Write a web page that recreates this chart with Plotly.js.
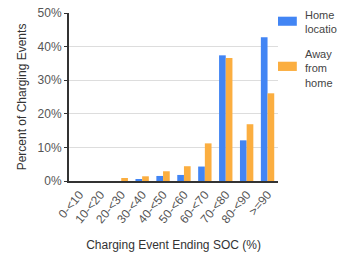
<!DOCTYPE html>
<html><head><meta charset="utf-8">
<script src="https://cdn.plot.ly/plotly-3.0.1.min.js"></script>
<style>html,body{margin:0;padding:0;background:#fff}#c{width:337px;height:257px}</style>
</head><body><div id="c"></div>
<script>
const categories = ["0-<10","10-<20","20-<30","30-<40","40-<50","50-<60","60-<70","70-<80","80-<90",">=90"];
const homeValues = [0, 0, 0, 0.6, 1.5, 1.8, 4.3, 37.4, 12.1, 42.8];
const awayValues = [0, 0, 0.9, 1.4, 2.9, 4.4, 11.2, 36.6, 16.9, 26.1];
const seriesNames = ["Home<br>location", "Away<br>from<br>home"];
const seriesColors = ["#4285F4", "#FBAE40"];
const yTicks = [0, 10, 20, 30, 40, 50];
const yTickLabels = ["0%", "10%", "20%", "30%", "40%", "50%"];

const font = {family: "Liberation Sans, Arial, sans-serif", size: 12, color: "#444"};
const data = [
  {type: "bar", x: categories, y: homeValues, name: seriesNames[0], marker: {color: seriesColors[0]}},
  {type: "bar", x: categories, y: awayValues, name: seriesNames[1], marker: {color: seriesColors[1]}}
];
// legend drawn with shapes + annotations (paper coords)
const boxTop = [0.978, 0.71], boxBot = [0.924, 0.655], textTop = [1.035, 0.805];
const shapes = [], annotations = [];
seriesNames.forEach((n, i) => {
  shapes.push({type: "rect", xref: "paper", yref: "paper", x0: 1.0, x1: 1.09, y0: boxBot[i], y1: boxTop[i],
               fillcolor: seriesColors[i], line: {width: 0}});
  annotations.push({xref: "paper", yref: "paper", x: 1.12, y: textTop[i], xanchor: "left", yanchor: "top",
                    text: n, showarrow: false, align: "left", font: {size: 11, color: "#444"}});
});
const layout = {
  width: 337, height: 257,
  margin: {l: 69, r: 59, t: 13, b: 76, pad: 0},
  font: font,
  paper_bgcolor: "#fff", plot_bgcolor: "#fff",
  barmode: "group", bargap: 0.36, bargroupgap: 0,
  showlegend: false,
  shapes: shapes, annotations: annotations,
  xaxis: {
    tickangle: -50, tickfont: {size: 12, color: "#555"},
    showline: true, linecolor: "#333", linewidth: 2, ticks: "", showgrid: false,
    title: {text: "Charging Event Ending SOC (%)", font: {size: 12, color: "#333"}, standoff: 16}
  },
  yaxis: {
    range: [0, 50], tickvals: yTicks, ticktext: yTickLabels,
    tickfont: {size: 12, color: "#555"},
    showline: true, linecolor: "#333", linewidth: 2,
    ticks: "outside", ticklen: 3, tickcolor: "#333",
    gridcolor: "#ddd", zeroline: false,
    title: {text: "Percent of Charging Events", font: {size: 12, color: "#333"}, standoff: 8}
  }
};
Plotly.newPlot("c", data, layout, {displayModeBar: false, staticPlot: true});
</script></body></html>
